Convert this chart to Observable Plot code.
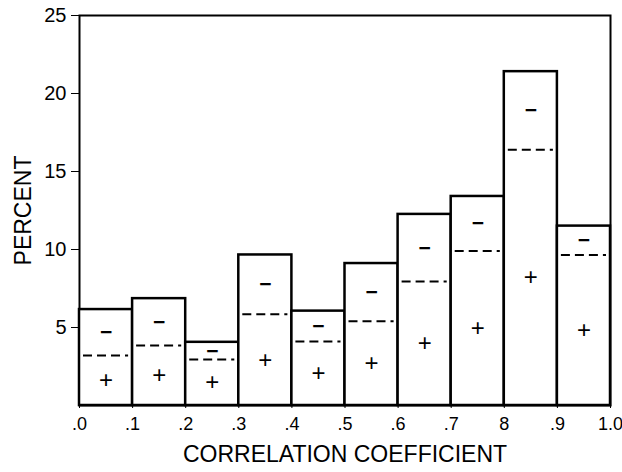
<!DOCTYPE html>
<html>
<head>
<meta charset="utf-8">
<script src="https://cdn.jsdelivr.net/npm/d3@7"></script>
<script src="https://cdn.jsdelivr.net/npm/@observablehq/plot@0.6"></script>
<style>
  html, body { margin: 0; padding: 0; background: #fff; }
  #chart svg { display: block; font-family: "Liberation Sans", Arial, sans-serif; }
</style>
</head>
<body>
<div id="chart"></div>
<script>
// Bin edges of the correlation coefficient histogram
const binStart = [0.0, 0.1, 0.2, 0.3, 0.4, 0.5, 0.6, 0.7, 0.8, 0.9];
const binEnd   = [0.1, 0.2, 0.3, 0.4, 0.5, 0.6, 0.7, 0.8, 0.9, 1.0];
// Total percent in each bin
const totalPct = [6.15, 6.85, 4.05, 9.65, 6.05, 9.1, 12.25, 13.4, 21.4, 11.5];
// Percent with positive correlation (below the dashed line)
const positivePct = [3.2, 3.85, 2.95, 5.85, 4.1, 5.4, 7.95, 9.9, 16.4, 9.65];

const xTicks = [0, 0.1, 0.2, 0.3, 0.4, 0.5, 0.6, 0.7, 0.8, 0.9, 1.0];
const xTickLabels = [".0", ".1", ".2", ".3", ".4", ".5", ".6", ".7", "8", ".9", "1.0"];
const yTicks = [5, 10, 15, 20, 25];

const bins = binStart.map((x1, i) => ({
  x1, x2: binEnd[i], total: totalPct[i], pos: positivePct[i]
}));

const chart = Plot.plot({
  width: 622,
  height: 472,
  marginLeft: 79,
  marginRight: 12,
  marginTop: 15,
  marginBottom: 67,
  x: {domain: [0, 1]},
  y: {domain: [0, 25]},
  style: {fontSize: "20px", color: "black", background: "white"},
  marks: [
    Plot.frame({stroke: "black", strokeWidth: 2}),
    Plot.rectY(bins, {x1: "x1", x2: "x2", y1: 0, y2: "total", fill: "white", stroke: "black", strokeWidth: 2.5}),
    Plot.ruleY(bins, {x1: "x1", x2: "x2", y: "pos", stroke: "black", strokeWidth: 2, strokeDasharray: "9,5", insetLeft: 4, insetRight: 4}),
    Plot.text(bins, {x: d => (d.x1 + d.x2) / 2, y: d => (d.pos + d.total) / 2, text: () => "−", fontSize: 21, fontWeight: "bold"}),
    Plot.text(bins, {x: d => (d.x1 + d.x2) / 2, y: d => d.pos / 2, text: () => "+", fontSize: 24}),
    Plot.axisY({ticks: yTicks, tickSize: 8, tickPadding: 5, tickWidth: 1.5, label: null, fontSize: 20}),
    Plot.axisX({ticks: xTicks, tickSize: 3, tickPadding: 9, label: null, fontSize: 18,
      tickFormat: d => xTickLabels[xTicks.findIndex(t => Math.abs(t - d) < 1e-9)]}),
    Plot.text(["PERCENT"], {frameAnchor: "left", textAnchor: "middle", dx: -56, rotate: -90, fontSize: 23}),
    Plot.text(["CORRELATION COEFFICIENT"], {frameAnchor: "bottom", dy: 56, fontSize: 23})
  ]
});

document.getElementById("chart").append(chart);
</script>
</body>
</html>
